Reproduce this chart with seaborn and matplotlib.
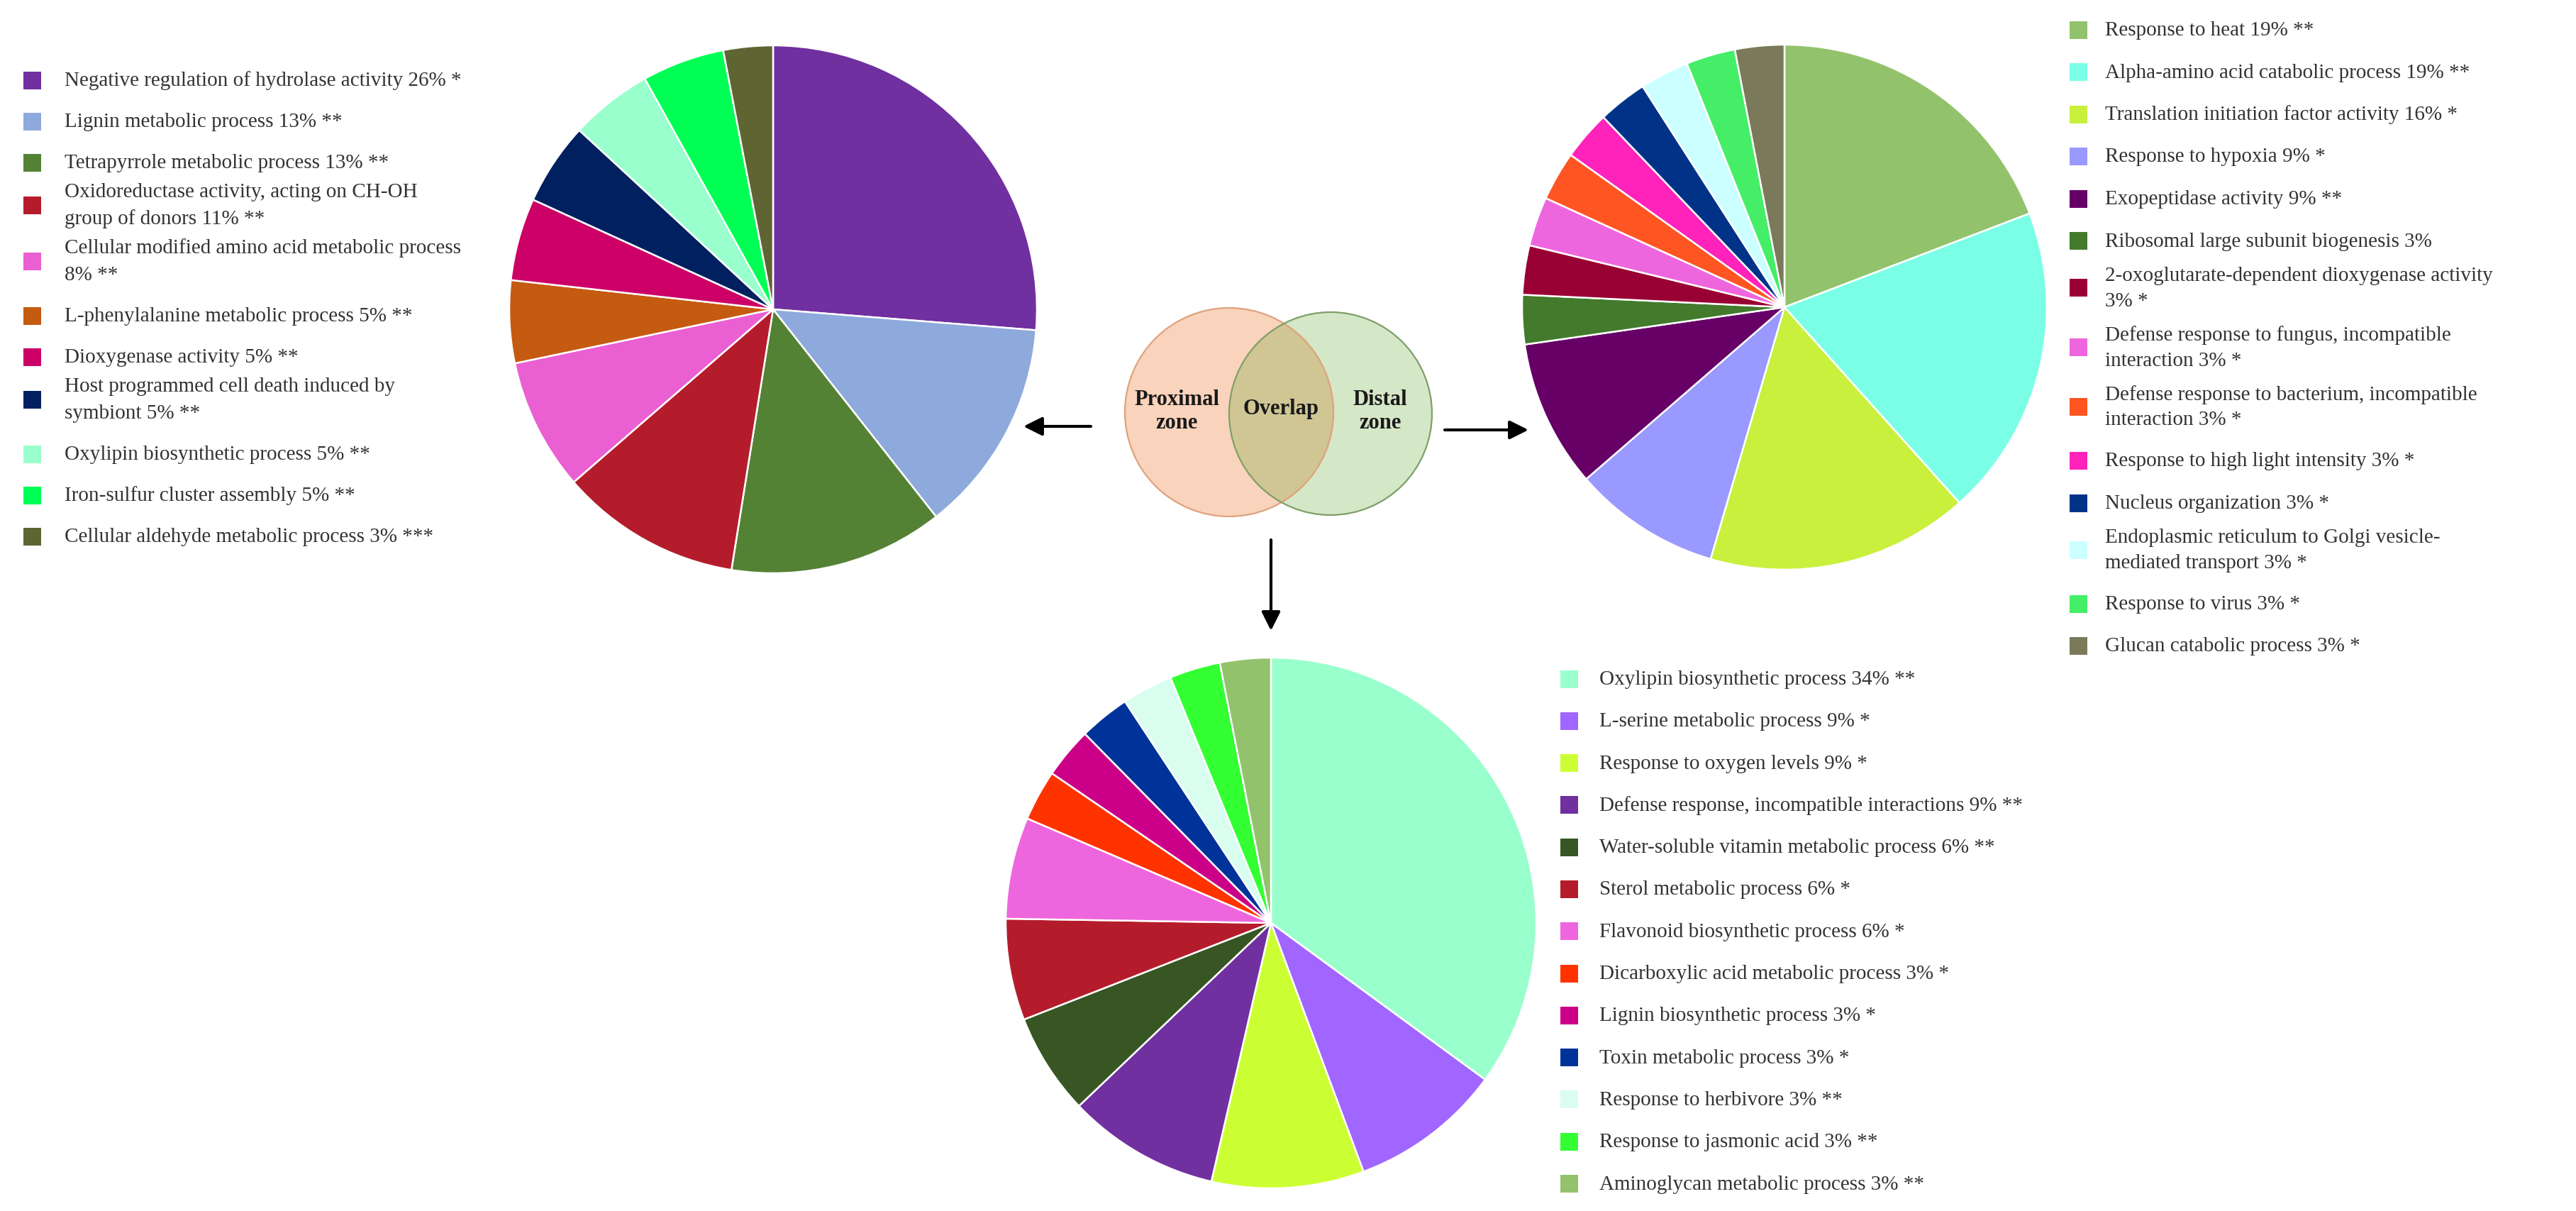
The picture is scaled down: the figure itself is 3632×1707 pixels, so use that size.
import numpy as np
import pandas as pd
import matplotlib
matplotlib.use("Agg")
import matplotlib.pyplot as plt
import seaborn as sns
from matplotlib.patches import Circle, Rectangle

sns.set_theme(style="white")
plt.rcParams['font.family'] = ['Liberation Serif', 'DejaVu Serif']

# ---------------- data ----------------
prox_terms = [
    "Negative regulation of hydrolase activity",
    "Lignin metabolic process",
    "Tetrapyrrole metabolic process",
    "Oxidoreductase activity, acting on CH-OH\ngroup of donors",
    "Cellular modified amino acid metabolic process\n",
    "L-phenylalanine metabolic process",
    "Dioxygenase activity",
    "Host programmed cell death induced by\nsymbiont",
    "Oxylipin biosynthetic process",
    "Iron-sulfur cluster assembly",
    "Cellular aldehyde metabolic process",
]
prox_pct = [26, 13, 13, 11, 8, 5, 5, 5, 5, 5, 3]
prox_sig = ["*", "**", "**", "**", "**", "**", "**", "**", "**", "**", "***"]
prox_colors = ["#7030A0", "#8EA9DB", "#548235", "#B51C2B", "#EA5FD2", "#C55A11",
               "#CC0066", "#002060", "#99FFCC", "#00FF55", "#5F6532"]

dist_terms = [
    "Response to heat",
    "Alpha-amino acid catabolic process",
    "Translation initiation factor activity",
    "Response to hypoxia",
    "Exopeptidase activity",
    "Ribosomal large subunit biogenesis",
    "2-oxoglutarate-dependent dioxygenase activity\n",
    "Defense response to fungus, incompatible\ninteraction",
    "Defense response to bacterium, incompatible\ninteraction",
    "Response to high light intensity",
    "Nucleus organization",
    "Endoplasmic reticulum to Golgi vesicle-\nmediated transport",
    "Response to virus",
    "Glucan catabolic process",
]
dist_pct = [19, 19, 16, 9, 9, 3, 3, 3, 3, 3, 3, 3, 3, 3]
dist_sig = ["**", "**", "*", "*", "**", "", "*", "*", "*", "*", "*", "*", "*", "*"]
dist_colors = ["#92C36C", "#7AFFE6", "#C8F03C", "#9999FF", "#660066", "#437A2C",
               "#990033", "#EE66DD", "#FF5522", "#FF22BB", "#003388", "#CCFFFF",
               "#44EE66", "#7A7A5A"]

over_terms = [
    "Oxylipin biosynthetic process",
    "L-serine metabolic process",
    "Response to oxygen levels",
    "Defense response, incompatible interactions",
    "Water-soluble vitamin metabolic process",
    "Sterol metabolic process",
    "Flavonoid biosynthetic process",
    "Dicarboxylic acid metabolic process",
    "Lignin biosynthetic process",
    "Toxin metabolic process",
    "Response to herbivore",
    "Response to jasmonic acid",
    "Aminoglycan metabolic process",
]
over_pct = [34, 9, 9, 9, 6, 6, 6, 3, 3, 3, 3, 3, 3]
over_sig = ["**", "*", "*", "**", "**", "*", "*", "*", "*", "*", "**", "**", "**"]
over_colors = ["#99FFCC", "#A066FF", "#CCFF33", "#7030A0", "#375623", "#B51C2B",
               "#EE66DD", "#FF3300", "#CC0088", "#003399", "#D9FDEE", "#33FF33",
               "#92C36C"]

venn_labels = ["Proximal\nzone", "Overlap", "Distal\nzone"]

# ---------------- layout ----------------
W, H = 3632, 1708
fig = plt.figure(figsize=(W / 100, H / 100), dpi=100)
ax = fig.add_axes([0, 0, 1, 1])
TXT = "#333333"


def make_df(terms, pct, sig):
    return pd.DataFrame({"term": terms, "pct": pct, "sig": sig})


def pie(df, colors, cx, cy, r):
    ax.pie(df["pct"], colors=colors, center=(cx, cy), radius=r,
           startangle=-90, counterclock=True, frame=True,
           wedgeprops=dict(edgecolor="white", linewidth=1.8))


def legend(df, colors, x_sw, x_txt, y0, fs, sw, step, line_h, gap2, step2):
    y = y0
    prev_n = 1
    for i, row in df.reset_index(drop=True).iterrows():
        term = row["term"]
        tail = f"{row['pct']}%" + (f" {row['sig']}" if row["sig"] else "")
        label = term + tail if term.endswith("\n") else term + " " + tail
        lines = label.split("\n")
        n = len(lines)
        if i > 0:
            if n > 1:
                y += gap2
            else:
                y += step if prev_n == 1 else step2
        for k, ln in enumerate(lines):
            ax.text(x_txt, y + k * line_h, ln, ha="left", va="center",
                    fontsize=fs, color=TXT)
        yc = y + (n - 1) * line_h / 2
        ax.add_patch(Rectangle((x_sw, yc - sw[1] / 2), sw[0], sw[1],
                               facecolor=colors[i], edgecolor="none"))
        y = y + (n - 1) * line_h
        prev_n = n


prox = make_df(prox_terms, prox_pct, prox_sig)
dist = make_df(dist_terms, dist_pct, dist_sig)
over = make_df(over_terms, over_pct, over_sig)

pie(prox, prox_colors, 1090, 437, 372)
pie(dist, dist_colors, 2516, 434, 370)
pie(over, over_colors, 1792, 1302, 374)

legend(prox, prox_colors, 33, 91, 114, 21, (25, 25), 58, 38, 41, 58)
legend(dist, dist_colors, 2918, 2968, 43, 21, (25, 25), 59.5, 36, 48, 58)
legend(over, over_colors, 2200, 2255, 958, 21, (25, 25), 59.3, 36, 50, 59)

# Venn diagram
ax.add_patch(Circle((1733, 582), 147, facecolor="#F0823F", alpha=0.35,
                    edgecolor="none"))
ax.add_patch(Circle((1876, 584), 143, facecolor="#5CA424", alpha=0.26,
                    edgecolor="none"))
ax.add_patch(Circle((1733, 582), 147, fill=False, edgecolor="#DFA27E", lw=1.6))
ax.add_patch(Circle((1876, 584), 143, fill=False, edgecolor="#7E9F68", lw=1.6))
for (tx, ty), lab in zip([(1659, 580), (1806, 577), (1946, 580)], venn_labels):
    ax.text(tx, ty, lab, ha="center", va="center", fontsize=22,
            fontweight="bold", color="#1A1A1A", linespacing=1.2)

arrow = dict(arrowstyle="-|>,head_length=0.8,head_width=0.4", lw=3,
             color="black", mutation_scale=20, shrinkA=0, shrinkB=0)
ax.annotate("", xy=(1443, 602), xytext=(1538, 602), arrowprops=arrow)
ax.annotate("", xy=(2155, 607), xytext=(2037, 607), arrowprops=arrow)
ax.annotate("", xy=(1792, 890), xytext=(1792, 762), arrowprops=arrow)

ax.set_xlim(0, W)
ax.set_ylim(H, 0)
ax.set_aspect("equal")
ax.set_axis_off()

fig.savefig("out.png", dpi=100, facecolor="white")
